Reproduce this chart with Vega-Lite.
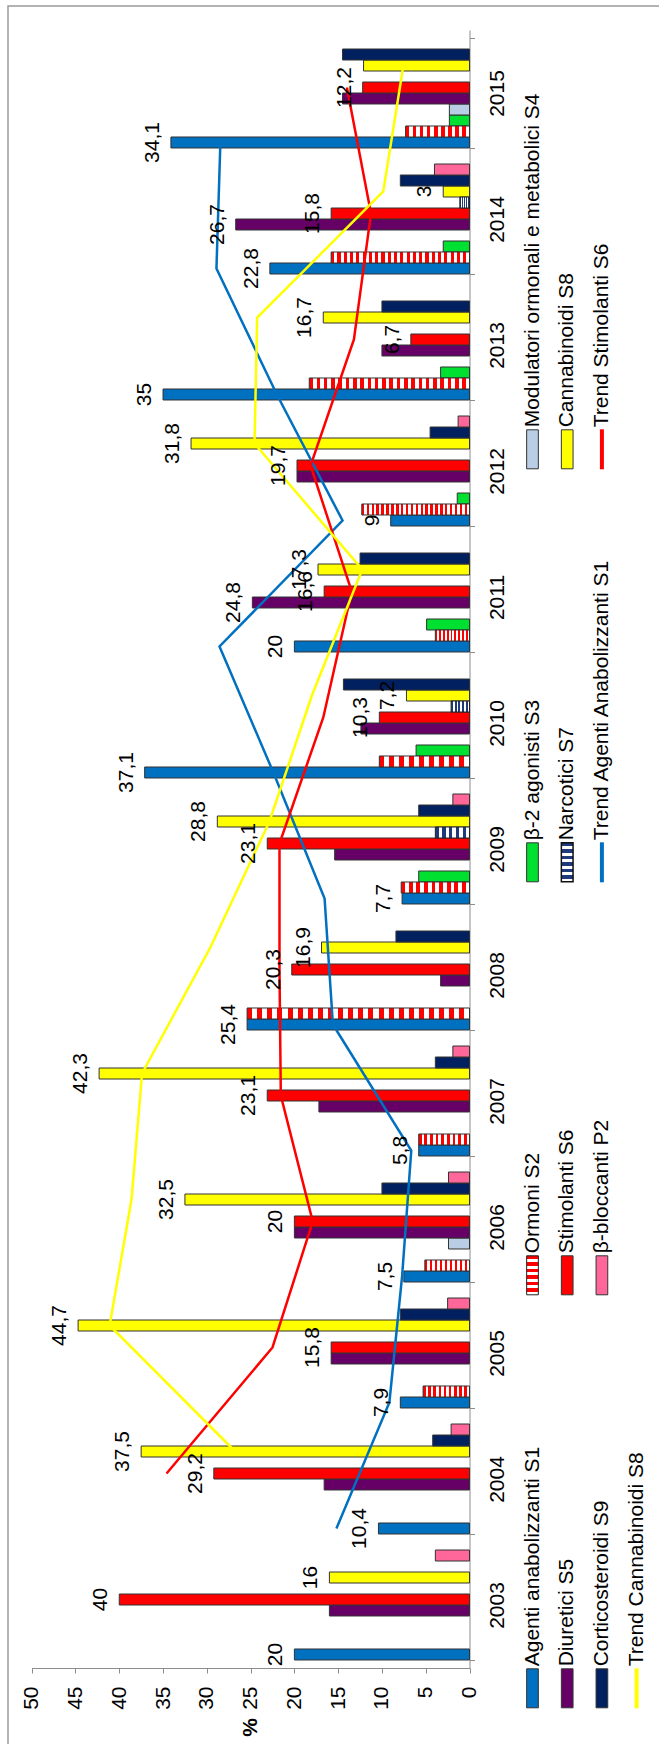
{
  "$schema": "https://vega.github.io/schema/vega-lite/v6.json",
  "width": 653,
  "height": 1740,
  "autosize": {"type": "none"},
  "padding": {"left": 8, "top": 6, "right": -2, "bottom": -2},
  "background": "white",
  "config": {"view": {"stroke": "#9a9a9a", "strokeWidth": 1.5}, "font": "Liberation Sans"},
  "datasets": {
    "bars": [
      {"year": 2003, "series": "Agenti anabolizzanti S1", "value": 20, "label": "20"},
      {"year": 2003, "series": "Diuretici S5", "value": 16},
      {"year": 2003, "series": "Stimolanti S6", "value": 40, "label": "40"},
      {"year": 2003, "series": "Cannabinoidi S8", "value": 16, "label": "16"},
      {"year": 2003, "series": "β-bloccanti P2", "value": 3.9},
      {"year": 2004, "series": "Agenti anabolizzanti S1", "value": 10.4, "label": "10,4"},
      {"year": 2004, "series": "Diuretici S5", "value": 16.6},
      {"year": 2004, "series": "Stimolanti S6", "value": 29.2, "label": "29,2"},
      {"year": 2004, "series": "Cannabinoidi S8", "value": 37.5, "label": "37,5"},
      {"year": 2004, "series": "Corticosteroidi S9", "value": 4.2},
      {"year": 2004, "series": "β-bloccanti P2", "value": 2.1},
      {"year": 2005, "series": "Agenti anabolizzanti S1", "value": 7.9, "label": "7,9"},
      {"year": 2005, "series": "Ormoni S2", "value": 5.3},
      {"year": 2005, "series": "Diuretici S5", "value": 15.8},
      {"year": 2005, "series": "Stimolanti S6", "value": 15.8, "label": "15,8"},
      {"year": 2005, "series": "Cannabinoidi S8", "value": 44.7, "label": "44,7"},
      {"year": 2005, "series": "Corticosteroidi S9", "value": 7.9},
      {"year": 2005, "series": "β-bloccanti P2", "value": 2.5},
      {"year": 2006, "series": "Agenti anabolizzanti S1", "value": 7.5, "label": "7,5"},
      {"year": 2006, "series": "Ormoni S2", "value": 5.1},
      {"year": 2006, "series": "Modulatori ormonali e metabolici S4", "value": 2.4},
      {"year": 2006, "series": "Diuretici S5", "value": 20},
      {"year": 2006, "series": "Stimolanti S6", "value": 20, "label": "20"},
      {"year": 2006, "series": "Cannabinoidi S8", "value": 32.5, "label": "32,5"},
      {"year": 2006, "series": "Corticosteroidi S9", "value": 10},
      {"year": 2006, "series": "β-bloccanti P2", "value": 2.4},
      {"year": 2007, "series": "Agenti anabolizzanti S1", "value": 5.8, "label": "5,8"},
      {"year": 2007, "series": "Ormoni S2", "value": 5.8},
      {"year": 2007, "series": "Diuretici S5", "value": 17.2},
      {"year": 2007, "series": "Stimolanti S6", "value": 23.1, "label": "23,1"},
      {"year": 2007, "series": "Cannabinoidi S8", "value": 42.3, "label": "42,3"},
      {"year": 2007, "series": "Corticosteroidi S9", "value": 3.9},
      {"year": 2007, "series": "β-bloccanti P2", "value": 1.9},
      {"year": 2008, "series": "Agenti anabolizzanti S1", "value": 25.4, "label": "25,4"},
      {"year": 2008, "series": "Ormoni S2", "value": 25.4},
      {"year": 2008, "series": "Diuretici S5", "value": 3.3},
      {"year": 2008, "series": "Stimolanti S6", "value": 20.3, "label": "20,3"},
      {"year": 2008, "series": "Cannabinoidi S8", "value": 16.9, "label": "16,9"},
      {"year": 2008, "series": "Corticosteroidi S9", "value": 8.4},
      {"year": 2009, "series": "Agenti anabolizzanti S1", "value": 7.7, "label": "7,7"},
      {"year": 2009, "series": "Ormoni S2", "value": 7.8},
      {"year": 2009, "series": "β-2 agonisti S3", "value": 5.8},
      {"year": 2009, "series": "Diuretici S5", "value": 15.4},
      {"year": 2009, "series": "Stimolanti S6", "value": 23.1, "label": "23,1"},
      {"year": 2009, "series": "Narcotici S7", "value": 3.9},
      {"year": 2009, "series": "Cannabinoidi S8", "value": 28.8, "label": "28,8"},
      {"year": 2009, "series": "Corticosteroidi S9", "value": 5.8},
      {"year": 2009, "series": "β-bloccanti P2", "value": 1.9},
      {"year": 2010, "series": "Agenti anabolizzanti S1", "value": 37.1, "label": "37,1"},
      {"year": 2010, "series": "Ormoni S2", "value": 10.3},
      {"year": 2010, "series": "β-2 agonisti S3", "value": 6.1},
      {"year": 2010, "series": "Diuretici S5", "value": 12.4},
      {"year": 2010, "series": "Stimolanti S6", "value": 10.3, "label": "10,3"},
      {"year": 2010, "series": "Narcotici S7", "value": 2.1},
      {"year": 2010, "series": "Cannabinoidi S8", "value": 7.2, "label": "7,2"},
      {"year": 2010, "series": "Corticosteroidi S9", "value": 14.4},
      {"year": 2011, "series": "Agenti anabolizzanti S1", "value": 20, "label": "20"},
      {"year": 2011, "series": "Ormoni S2", "value": 3.9},
      {"year": 2011, "series": "β-2 agonisti S3", "value": 4.9},
      {"year": 2011, "series": "Diuretici S5", "value": 24.8, "label": "24,8"},
      {"year": 2011, "series": "Stimolanti S6", "value": 16.6, "label": "16,6"},
      {"year": 2011, "series": "Cannabinoidi S8", "value": 17.3, "label": "17,3"},
      {"year": 2011, "series": "Corticosteroidi S9", "value": 12.5},
      {"year": 2012, "series": "Agenti anabolizzanti S1", "value": 9, "label": "9"},
      {"year": 2012, "series": "Ormoni S2", "value": 12.3},
      {"year": 2012, "series": "β-2 agonisti S3", "value": 1.4},
      {"year": 2012, "series": "Diuretici S5", "value": 19.7},
      {"year": 2012, "series": "Stimolanti S6", "value": 19.7, "label": "19,7"},
      {"year": 2012, "series": "Cannabinoidi S8", "value": 31.8, "label": "31,8"},
      {"year": 2012, "series": "Corticosteroidi S9", "value": 4.5},
      {"year": 2012, "series": "β-bloccanti P2", "value": 1.3},
      {"year": 2013, "series": "Agenti anabolizzanti S1", "value": 35, "label": "35"},
      {"year": 2013, "series": "Ormoni S2", "value": 18.3},
      {"year": 2013, "series": "β-2 agonisti S3", "value": 3.3},
      {"year": 2013, "series": "Diuretici S5", "value": 10},
      {"year": 2013, "series": "Stimolanti S6", "value": 6.7, "label": "6,7"},
      {"year": 2013, "series": "Cannabinoidi S8", "value": 16.7, "label": "16,7"},
      {"year": 2013, "series": "Corticosteroidi S9", "value": 10},
      {"year": 2014, "series": "Agenti anabolizzanti S1", "value": 22.8, "label": "22,8"},
      {"year": 2014, "series": "Ormoni S2", "value": 15.8},
      {"year": 2014, "series": "β-2 agonisti S3", "value": 3},
      {"year": 2014, "series": "Diuretici S5", "value": 26.7, "label": "26,7"},
      {"year": 2014, "series": "Stimolanti S6", "value": 15.8, "label": "15,8"},
      {"year": 2014, "series": "Narcotici S7", "value": 1.1},
      {"year": 2014, "series": "Cannabinoidi S8", "value": 3, "label": "3"},
      {"year": 2014, "series": "Corticosteroidi S9", "value": 7.9},
      {"year": 2014, "series": "β-bloccanti P2", "value": 4},
      {"year": 2015, "series": "Agenti anabolizzanti S1", "value": 34.1, "label": "34,1"},
      {"year": 2015, "series": "Ormoni S2", "value": 7.3},
      {"year": 2015, "series": "β-2 agonisti S3", "value": 2.3},
      {"year": 2015, "series": "Modulatori ormonali e metabolici S4", "value": 2.3},
      {"year": 2015, "series": "Diuretici S5", "value": 14.5},
      {"year": 2015, "series": "Stimolanti S6", "value": 12.2, "label": "12,2"},
      {"year": 2015, "series": "Cannabinoidi S8", "value": 12.1},
      {"year": 2015, "series": "Corticosteroidi S9", "value": 14.5}
    ],
    "trend": [
      {"year": 2004, "series": "Agenti anabolizzanti S1", "trend": "Trend Agenti Anabolizzanti S1", "value": 15.2},
      {"year": 2005, "series": "Agenti anabolizzanti S1", "trend": "Trend Agenti Anabolizzanti S1", "value": 9.15},
      {"year": 2006, "series": "Agenti anabolizzanti S1", "trend": "Trend Agenti Anabolizzanti S1", "value": 7.7},
      {"year": 2007, "series": "Agenti anabolizzanti S1", "trend": "Trend Agenti Anabolizzanti S1", "value": 6.65},
      {"year": 2008, "series": "Agenti anabolizzanti S1", "trend": "Trend Agenti Anabolizzanti S1", "value": 15.6},
      {"year": 2009, "series": "Agenti anabolizzanti S1", "trend": "Trend Agenti Anabolizzanti S1", "value": 16.55},
      {"year": 2010, "series": "Agenti anabolizzanti S1", "trend": "Trend Agenti Anabolizzanti S1", "value": 22.4},
      {"year": 2011, "series": "Agenti anabolizzanti S1", "trend": "Trend Agenti Anabolizzanti S1", "value": 28.55},
      {"year": 2012, "series": "Agenti anabolizzanti S1", "trend": "Trend Agenti Anabolizzanti S1", "value": 14.5},
      {"year": 2013, "series": "Agenti anabolizzanti S1", "trend": "Trend Agenti Anabolizzanti S1", "value": 22},
      {"year": 2014, "series": "Agenti anabolizzanti S1", "trend": "Trend Agenti Anabolizzanti S1", "value": 28.9},
      {"year": 2015, "series": "Agenti anabolizzanti S1", "trend": "Trend Agenti Anabolizzanti S1", "value": 28.45},
      {"year": 2004, "series": "Stimolanti S6", "trend": "Trend Stimolanti S6", "value": 34.6},
      {"year": 2005, "series": "Stimolanti S6", "trend": "Trend Stimolanti S6", "value": 22.5},
      {"year": 2006, "series": "Stimolanti S6", "trend": "Trend Stimolanti S6", "value": 17.9},
      {"year": 2007, "series": "Stimolanti S6", "trend": "Trend Stimolanti S6", "value": 21.55},
      {"year": 2008, "series": "Stimolanti S6", "trend": "Trend Stimolanti S6", "value": 21.7},
      {"year": 2009, "series": "Stimolanti S6", "trend": "Trend Stimolanti S6", "value": 21.7},
      {"year": 2010, "series": "Stimolanti S6", "trend": "Trend Stimolanti S6", "value": 16.7},
      {"year": 2011, "series": "Stimolanti S6", "trend": "Trend Stimolanti S6", "value": 13.45},
      {"year": 2012, "series": "Stimolanti S6", "trend": "Trend Stimolanti S6", "value": 18.15},
      {"year": 2013, "series": "Stimolanti S6", "trend": "Trend Stimolanti S6", "value": 13.2},
      {"year": 2014, "series": "Stimolanti S6", "trend": "Trend Stimolanti S6", "value": 11.25},
      {"year": 2015, "series": "Stimolanti S6", "trend": "Trend Stimolanti S6", "value": 14.0},
      {"year": 2004, "series": "Cannabinoidi S8", "trend": "Trend Cannabinoidi S8", "value": 26.75},
      {"year": 2005, "series": "Cannabinoidi S8", "trend": "Trend Cannabinoidi S8", "value": 41.1},
      {"year": 2006, "series": "Cannabinoidi S8", "trend": "Trend Cannabinoidi S8", "value": 38.6},
      {"year": 2007, "series": "Cannabinoidi S8", "trend": "Trend Cannabinoidi S8", "value": 37.4},
      {"year": 2008, "series": "Cannabinoidi S8", "trend": "Trend Cannabinoidi S8", "value": 29.6},
      {"year": 2009, "series": "Cannabinoidi S8", "trend": "Trend Cannabinoidi S8", "value": 22.85},
      {"year": 2010, "series": "Cannabinoidi S8", "trend": "Trend Cannabinoidi S8", "value": 18.0},
      {"year": 2011, "series": "Cannabinoidi S8", "trend": "Trend Cannabinoidi S8", "value": 12.25},
      {"year": 2012, "series": "Cannabinoidi S8", "trend": "Trend Cannabinoidi S8", "value": 24.55},
      {"year": 2013, "series": "Cannabinoidi S8", "trend": "Trend Cannabinoidi S8", "value": 24.25},
      {"year": 2014, "series": "Cannabinoidi S8", "trend": "Trend Cannabinoidi S8", "value": 9.85},
      {"year": 2015, "series": "Cannabinoidi S8", "trend": "Trend Cannabinoidi S8", "value": 7.55}
    ],
    "legend": [
      {"name": "Agenti anabolizzanti S1", "legend_line": 1, "legend_slot": 1, "kind": "bar"},
      {"name": "Ormoni S2", "legend_line": 1, "legend_slot": 2, "kind": "hatch"},
      {"name": "β-2 agonisti S3", "legend_line": 1, "legend_slot": 3, "kind": "bar"},
      {"name": "Modulatori ormonali e metabolici S4", "legend_line": 1, "legend_slot": 4, "kind": "bar"},
      {"name": "Diuretici S5", "legend_line": 2, "legend_slot": 1, "kind": "bar"},
      {"name": "Stimolanti S6", "legend_line": 2, "legend_slot": 2, "kind": "bar"},
      {"name": "Narcotici S7", "legend_line": 2, "legend_slot": 3, "kind": "hatch"},
      {"name": "Cannabinoidi S8", "legend_line": 2, "legend_slot": 4, "kind": "bar"},
      {"name": "Corticosteroidi S9", "legend_line": 3, "legend_slot": 1, "kind": "bar"},
      {"name": "β-bloccanti P2", "legend_line": 3, "legend_slot": 2, "kind": "bar"},
      {"name": "Trend Agenti Anabolizzanti S1", "legend_line": 3, "legend_slot": 3, "kind": "line"},
      {"name": "Trend Stimolanti S6", "legend_line": 3, "legend_slot": 4, "kind": "line"},
      {"name": "Trend Cannabinoidi S8", "legend_line": 4, "legend_slot": 1, "kind": "line"}
    ]
  },
  "layer": [
    {
      "encoding": {
        "x": {"field": "value", "type": "quantitative",
          "scale": {"domain": [0, 50], "range": [23.7, 461.5], "reverse": true, "nice": false, "zero": true},
          "axis": {"orient": "bottom", "offset": -78, "values": [0, 5, 10, 15, 20, 25, 30, 35, 40, 45, 50], "grid": false,
            "labelAngle": 270, "labelFontSize": 21, "labelPadding": 13, "labelColor": "#000000", "labelFlush": false, "labelOverlap": false,
            "tickSize": 5, "tickColor": "#8c8c8c", "domainColor": "#8c8c8c",
            "title": "%", "titleFontSize": 21, "titleFontWeight": "bold", "titleColor": "#000000",
            "titleAngle": 270, "titleAlign": "center", "titleBaseline": "middle", "titleY": 59}},
        "y": {"field": "year", "type": "ordinal",
          "scale": {"domain": [2015, 2014, 2013, 2012, 2011, 2010, 2009, 2008, 2007, 2006, 2005, 2004, 2003], "range": [24, 1662], "paddingInner": 0.127, "paddingOuter": 0.0635},
          "axis": {"orient": "right", "offset": -191.5, "title": null, "grid": false, "tickBand": "extent",
            "labelAngle": 270, "labelAlign": "center", "labelBaseline": "top", "labelFontSize": 21, "labelPadding": 12, "labelColor": "#000000",
            "tickSize": 5, "tickColor": "#8c8c8c", "domainColor": "#8c8c8c"}},
        "yOffset": {"field": "series", "type": "nominal",
          "scale": {"domain": ["β-bloccanti P2", "Corticosteroidi S9", "Cannabinoidi S8", "Narcotici S7", "Stimolanti S6", "Diuretici S5", "Modulatori ormonali e metabolici S4", "β-2 agonisti S3", "Ormoni S2", "Agenti anabolizzanti S1"], "paddingInner": 0, "paddingOuter": 0}}
      },
      "layer": [
        {
          "data": {"name": "bars"},
          "transform": [{"filter": "datum.series !== 'Ormoni S2' && datum.series !== 'Narcotici S7'"}],
          "mark": {"type": "bar", "stroke": "#333333", "strokeWidth": 1},
          "encoding": {
            "color": {"field": "series", "type": "nominal", "legend": null,
              "scale": {"domain": ["Agenti anabolizzanti S1", "Ormoni S2", "β-2 agonisti S3", "Modulatori ormonali e metabolici S4", "Diuretici S5", "Stimolanti S6", "Narcotici S7", "Cannabinoidi S8", "Corticosteroidi S9", "β-bloccanti P2", "Trend Agenti Anabolizzanti S1", "Trend Stimolanti S6", "Trend Cannabinoidi S8"],
                "range": ["#0070c0", "#ff0000", "#00e030", "#b9cde5", "#660066", "#ff0000", "#1f3a7a", "#ffff00", "#002060", "#ff6699", "#0070c0", "#ff0000", "#ffff00"]}}
          }
        },
        {
          "data": {"name": "bars"},
          "transform": [{"filter": "datum.series === 'Ormoni S2' && datum.value >= 12"}],
          "mark": {"type": "bar", "stroke": "#333333", "strokeWidth": 1,
            "fill": {"gradient": "linear", "x1": 0, "y1": 0, "x2": 1, "y2": 0, "stops": [
              {"offset": 0, "color": "red"}, {"offset": 0.0227, "color": "red"}, {"offset": 0.0227, "color": "white"}, {"offset": 0.0455, "color": "white"},
              {"offset": 0.0455, "color": "red"}, {"offset": 0.0682, "color": "red"}, {"offset": 0.0682, "color": "white"}, {"offset": 0.0909, "color": "white"},
              {"offset": 0.0909, "color": "red"}, {"offset": 0.1136, "color": "red"}, {"offset": 0.1136, "color": "white"}, {"offset": 0.1364, "color": "white"},
              {"offset": 0.1364, "color": "red"}, {"offset": 0.1591, "color": "red"}, {"offset": 0.1591, "color": "white"}, {"offset": 0.1818, "color": "white"},
              {"offset": 0.1818, "color": "red"}, {"offset": 0.2045, "color": "red"}, {"offset": 0.2045, "color": "white"}, {"offset": 0.2273, "color": "white"},
              {"offset": 0.2273, "color": "red"}, {"offset": 0.25, "color": "red"}, {"offset": 0.25, "color": "white"}, {"offset": 0.2727, "color": "white"},
              {"offset": 0.2727, "color": "red"}, {"offset": 0.2955, "color": "red"}, {"offset": 0.2955, "color": "white"}, {"offset": 0.3182, "color": "white"},
              {"offset": 0.3182, "color": "red"}, {"offset": 0.3409, "color": "red"}, {"offset": 0.3409, "color": "white"}, {"offset": 0.3636, "color": "white"},
              {"offset": 0.3636, "color": "red"}, {"offset": 0.3864, "color": "red"}, {"offset": 0.3864, "color": "white"}, {"offset": 0.4091, "color": "white"},
              {"offset": 0.4091, "color": "red"}, {"offset": 0.4318, "color": "red"}, {"offset": 0.4318, "color": "white"}, {"offset": 0.4545, "color": "white"},
              {"offset": 0.4545, "color": "red"}, {"offset": 0.4773, "color": "red"}, {"offset": 0.4773, "color": "white"}, {"offset": 0.5, "color": "white"},
              {"offset": 0.5, "color": "red"}, {"offset": 0.5227, "color": "red"}, {"offset": 0.5227, "color": "white"}, {"offset": 0.5455, "color": "white"},
              {"offset": 0.5455, "color": "red"}, {"offset": 0.5682, "color": "red"}, {"offset": 0.5682, "color": "white"}, {"offset": 0.5909, "color": "white"},
              {"offset": 0.5909, "color": "red"}, {"offset": 0.6136, "color": "red"}, {"offset": 0.6136, "color": "white"}, {"offset": 0.6364, "color": "white"},
              {"offset": 0.6364, "color": "red"}, {"offset": 0.6591, "color": "red"}, {"offset": 0.6591, "color": "white"}, {"offset": 0.6818, "color": "white"},
              {"offset": 0.6818, "color": "red"}, {"offset": 0.7045, "color": "red"}, {"offset": 0.7045, "color": "white"}, {"offset": 0.7273, "color": "white"},
              {"offset": 0.7273, "color": "red"}, {"offset": 0.75, "color": "red"}, {"offset": 0.75, "color": "white"}, {"offset": 0.7727, "color": "white"},
              {"offset": 0.7727, "color": "red"}, {"offset": 0.7955, "color": "red"}, {"offset": 0.7955, "color": "white"}, {"offset": 0.8182, "color": "white"},
              {"offset": 0.8182, "color": "red"}, {"offset": 0.8409, "color": "red"}, {"offset": 0.8409, "color": "white"}, {"offset": 0.8636, "color": "white"},
              {"offset": 0.8636, "color": "red"}, {"offset": 0.8864, "color": "red"}, {"offset": 0.8864, "color": "white"}, {"offset": 0.9091, "color": "white"},
              {"offset": 0.9091, "color": "red"}, {"offset": 0.9318, "color": "red"}, {"offset": 0.9318, "color": "white"}, {"offset": 0.9545, "color": "white"},
              {"offset": 0.9545, "color": "red"}, {"offset": 0.9773, "color": "red"}, {"offset": 0.9773, "color": "white"}, {"offset": 1, "color": "white"}
            ]}}
        },
        {
          "data": {"name": "bars"},
          "transform": [{"filter": "datum.series === 'Ormoni S2' && datum.value < 12"}],
          "mark": {"type": "bar", "stroke": "#333333", "strokeWidth": 1,
            "fill": {"gradient": "linear", "x1": 0, "y1": 0, "x2": 1, "y2": 0, "stops": [
              {"offset": 0, "color": "red"}, {"offset": 0.0556, "color": "red"}, {"offset": 0.0556, "color": "white"}, {"offset": 0.1111, "color": "white"},
              {"offset": 0.1111, "color": "red"}, {"offset": 0.1667, "color": "red"}, {"offset": 0.1667, "color": "white"}, {"offset": 0.2222, "color": "white"},
              {"offset": 0.2222, "color": "red"}, {"offset": 0.2778, "color": "red"}, {"offset": 0.2778, "color": "white"}, {"offset": 0.3333, "color": "white"},
              {"offset": 0.3333, "color": "red"}, {"offset": 0.3889, "color": "red"}, {"offset": 0.3889, "color": "white"}, {"offset": 0.4444, "color": "white"},
              {"offset": 0.4444, "color": "red"}, {"offset": 0.5, "color": "red"}, {"offset": 0.5, "color": "white"}, {"offset": 0.5556, "color": "white"},
              {"offset": 0.5556, "color": "red"}, {"offset": 0.6111, "color": "red"}, {"offset": 0.6111, "color": "white"}, {"offset": 0.6667, "color": "white"},
              {"offset": 0.6667, "color": "red"}, {"offset": 0.7222, "color": "red"}, {"offset": 0.7222, "color": "white"}, {"offset": 0.7778, "color": "white"},
              {"offset": 0.7778, "color": "red"}, {"offset": 0.8333, "color": "red"}, {"offset": 0.8333, "color": "white"}, {"offset": 0.8889, "color": "white"},
              {"offset": 0.8889, "color": "red"}, {"offset": 0.9444, "color": "red"}, {"offset": 0.9444, "color": "white"}, {"offset": 1, "color": "white"}
            ]}}
        },
        {
          "data": {"name": "bars"},
          "transform": [{"filter": "datum.series === 'Narcotici S7'"}],
          "mark": {"type": "bar", "stroke": "#222222", "strokeWidth": 1,
            "fill": {"gradient": "linear", "x1": 0, "y1": 0, "x2": 1, "y2": 0, "stops": [
              {"offset": 0, "color": "#1f3a7a"}, {"offset": 0.1, "color": "#1f3a7a"}, {"offset": 0.1, "color": "white"}, {"offset": 0.2, "color": "white"},
              {"offset": 0.2, "color": "#1f3a7a"}, {"offset": 0.3, "color": "#1f3a7a"}, {"offset": 0.3, "color": "white"}, {"offset": 0.4, "color": "white"},
              {"offset": 0.4, "color": "#1f3a7a"}, {"offset": 0.5, "color": "#1f3a7a"}, {"offset": 0.5, "color": "white"}, {"offset": 0.6, "color": "white"},
              {"offset": 0.6, "color": "#1f3a7a"}, {"offset": 0.7, "color": "#1f3a7a"}, {"offset": 0.7, "color": "white"}, {"offset": 0.8, "color": "white"},
              {"offset": 0.8, "color": "#1f3a7a"}, {"offset": 0.9, "color": "#1f3a7a"}, {"offset": 0.9, "color": "white"}, {"offset": 1, "color": "white"}
            ]}}
        },
        {
          "data": {"name": "trend"},
          "mark": {"type": "line", "strokeWidth": 2.5},
          "encoding": {
            "color": {"field": "trend", "type": "nominal", "legend": null,
              "scale": {"domain": ["Agenti anabolizzanti S1", "Ormoni S2", "β-2 agonisti S3", "Modulatori ormonali e metabolici S4", "Diuretici S5", "Stimolanti S6", "Narcotici S7", "Cannabinoidi S8", "Corticosteroidi S9", "β-bloccanti P2", "Trend Agenti Anabolizzanti S1", "Trend Stimolanti S6", "Trend Cannabinoidi S8"],
                "range": ["#0070c0", "#ff0000", "#00e030", "#b9cde5", "#660066", "#ff0000", "#1f3a7a", "#ffff00", "#002060", "#ff6699", "#0070c0", "#ff0000", "#ffff00"]}},
            "order": {"field": "year", "type": "quantitative"}
          }
        },
        {
          "data": {"name": "bars"},
          "transform": [{"filter": "datum.label != null"}],
          "mark": {"type": "text", "angle": 270, "align": "center", "baseline": "alphabetic", "dy": -12, "fontSize": 21, "color": "#000000"},
          "encoding": {
            "text": {"field": "label", "type": "nominal"}
          }
        }
      ]
    },
    {
      "data": {"name": "legend"},
      "encoding": {
        "x": {"field": "legend_line", "type": "quantitative", "scale": {"domain": [-14.1153, 4.7031], "nice": false, "zero": false}, "axis": null},
        "y": {"field": "legend_slot", "type": "quantitative", "scale": {"domain": [0.86029, 5.07337], "nice": false, "zero": false}, "axis": null}
      },
      "layer": [
        {
          "transform": [{"filter": "datum.kind === 'bar'"}],
          "mark": {"type": "point", "filled": true, "opacity": 1, "shape": "M-0.3,-1H0.3V1H-0.3Z", "size": 1521, "stroke": "#333333", "strokeWidth": 1},
          "encoding": {
            "color": {"field": "name", "type": "nominal", "legend": null,
              "scale": {"domain": ["Agenti anabolizzanti S1", "Ormoni S2", "β-2 agonisti S3", "Modulatori ormonali e metabolici S4", "Diuretici S5", "Stimolanti S6", "Narcotici S7", "Cannabinoidi S8", "Corticosteroidi S9", "β-bloccanti P2", "Trend Agenti Anabolizzanti S1", "Trend Stimolanti S6", "Trend Cannabinoidi S8"],
                "range": ["#0070c0", "#ff0000", "#00e030", "#b9cde5", "#660066", "#ff0000", "#1f3a7a", "#ffff00", "#002060", "#ff6699", "#0070c0", "#ff0000", "#ffff00"]}}
          }
        },
        {
          "transform": [{"filter": "datum.name === 'Ormoni S2'"}],
          "mark": {"type": "point", "filled": true, "opacity": 1, "shape": "M-0.3,-1H0.3V1H-0.3Z", "size": 1521, "stroke": "#222222", "strokeWidth": 1,
            "fill": {"gradient": "linear", "x1": 0, "y1": 0, "x2": 0, "y2": 1, "stops": [
              {"offset": 0, "color": "red"}, {"offset": 0.0833, "color": "red"}, {"offset": 0.0833, "color": "white"}, {"offset": 0.1667, "color": "white"},
              {"offset": 0.1667, "color": "red"}, {"offset": 0.25, "color": "red"}, {"offset": 0.25, "color": "white"}, {"offset": 0.3333, "color": "white"},
              {"offset": 0.3333, "color": "red"}, {"offset": 0.4167, "color": "red"}, {"offset": 0.4167, "color": "white"}, {"offset": 0.5, "color": "white"},
              {"offset": 0.5, "color": "red"}, {"offset": 0.5833, "color": "red"}, {"offset": 0.5833, "color": "white"}, {"offset": 0.6667, "color": "white"},
              {"offset": 0.6667, "color": "red"}, {"offset": 0.75, "color": "red"}, {"offset": 0.75, "color": "white"}, {"offset": 0.8333, "color": "white"},
              {"offset": 0.8333, "color": "red"}, {"offset": 0.9167, "color": "red"}, {"offset": 0.9167, "color": "white"}, {"offset": 1, "color": "white"}
            ]}}
        },
        {
          "transform": [{"filter": "datum.name === 'Narcotici S7'"}],
          "mark": {"type": "point", "filled": true, "opacity": 1, "shape": "M-0.3,-1H0.3V1H-0.3Z", "size": 1521, "stroke": "#111111", "strokeWidth": 1.5,
            "fill": {"gradient": "linear", "x1": 0, "y1": 0, "x2": 0, "y2": 1, "stops": [
              {"offset": 0, "color": "#1f3a7a"}, {"offset": 0.0833, "color": "#1f3a7a"}, {"offset": 0.0833, "color": "white"}, {"offset": 0.1667, "color": "white"},
              {"offset": 0.1667, "color": "#1f3a7a"}, {"offset": 0.25, "color": "#1f3a7a"}, {"offset": 0.25, "color": "white"}, {"offset": 0.3333, "color": "white"},
              {"offset": 0.3333, "color": "#1f3a7a"}, {"offset": 0.4167, "color": "#1f3a7a"}, {"offset": 0.4167, "color": "white"}, {"offset": 0.5, "color": "white"},
              {"offset": 0.5, "color": "#1f3a7a"}, {"offset": 0.5833, "color": "#1f3a7a"}, {"offset": 0.5833, "color": "white"}, {"offset": 0.6667, "color": "white"},
              {"offset": 0.6667, "color": "#1f3a7a"}, {"offset": 0.75, "color": "#1f3a7a"}, {"offset": 0.75, "color": "white"}, {"offset": 0.8333, "color": "white"},
              {"offset": 0.8333, "color": "#1f3a7a"}, {"offset": 0.9167, "color": "#1f3a7a"}, {"offset": 0.9167, "color": "white"}, {"offset": 1, "color": "white"}
            ]}}
        },
        {
          "transform": [{"filter": "datum.kind === 'line'"}],
          "mark": {"type": "point", "filled": false, "opacity": 1, "shape": "M0,-1V1", "size": 1600, "strokeWidth": 4},
          "encoding": {
            "color": {"field": "name", "type": "nominal", "legend": null,
              "scale": {"domain": ["Agenti anabolizzanti S1", "Ormoni S2", "β-2 agonisti S3", "Modulatori ormonali e metabolici S4", "Diuretici S5", "Stimolanti S6", "Narcotici S7", "Cannabinoidi S8", "Corticosteroidi S9", "β-bloccanti P2", "Trend Agenti Anabolizzanti S1", "Trend Stimolanti S6", "Trend Cannabinoidi S8"],
                "range": ["#0070c0", "#ff0000", "#00e030", "#b9cde5", "#660066", "#ff0000", "#1f3a7a", "#ffff00", "#002060", "#ff6699", "#0070c0", "#ff0000", "#ffff00"]}}
          }
        },
        {
          "mark": {"type": "text", "angle": 270, "align": "left", "baseline": "alphabetic", "dx": 22, "dy": 6, "fontSize": 21, "color": "#000000"},
          "encoding": {"text": {"field": "name", "type": "nominal"}}
        }
      ]
    }
  ],
  "resolve": {"scale": {"x": "independent", "y": "independent"}}
}
